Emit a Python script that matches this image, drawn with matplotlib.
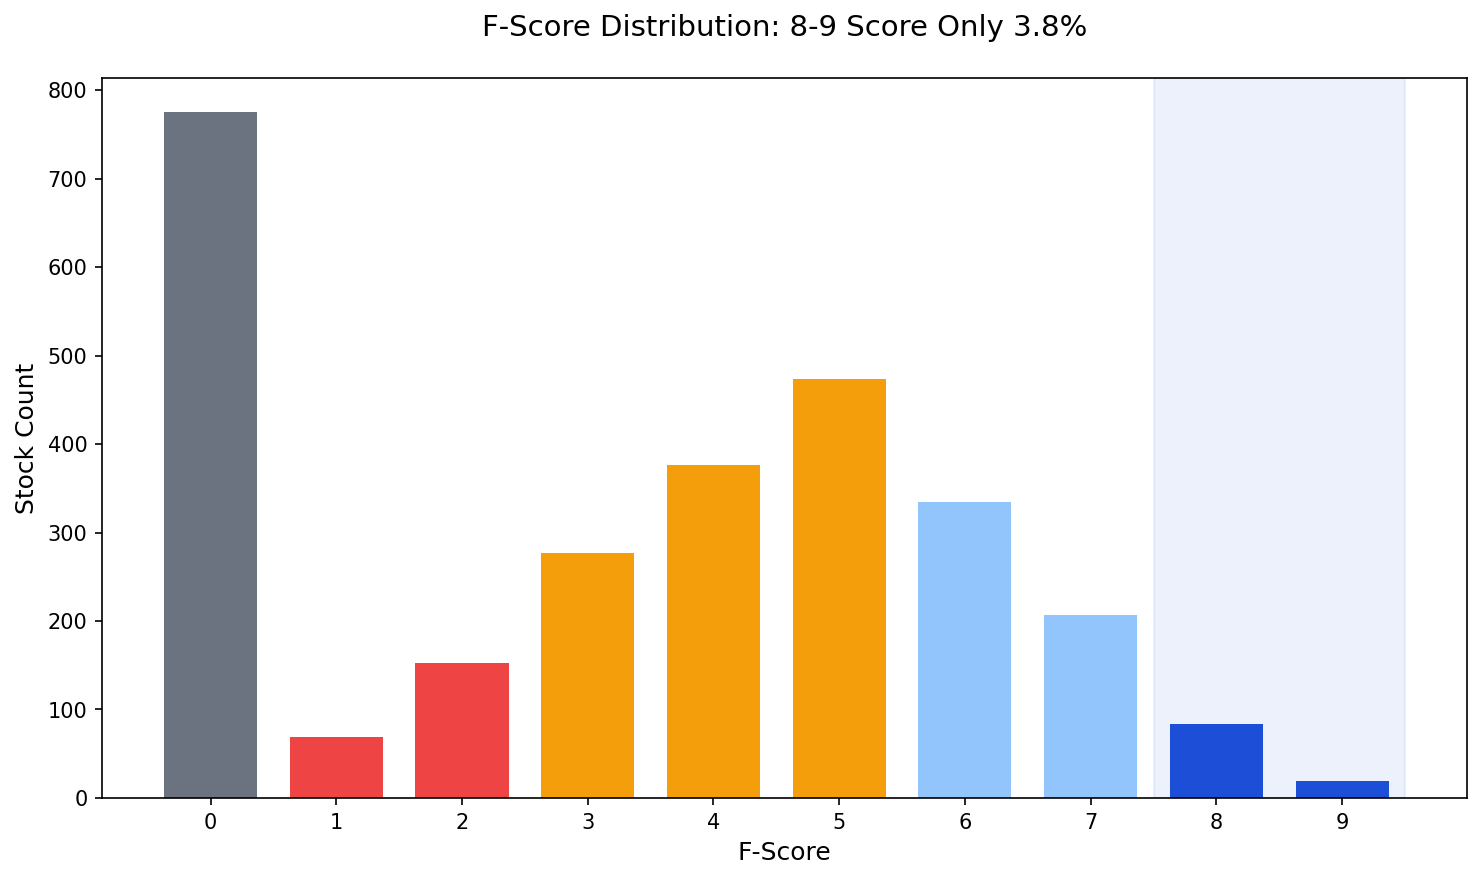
import matplotlib
matplotlib.use("Agg")
import matplotlib.pyplot as plt

# F-Score distribution data
scores = [0, 1, 2, 3, 4, 5, 6, 7, 8, 9]
counts = [775, 69, 153, 277, 376, 474, 335, 207, 84, 19]
colors = ['#6b7280', '#ef4444', '#ef4444', '#f59e0b', '#f59e0b', '#f59e0b',
          '#93c5fd', '#93c5fd', '#1d4ed8', '#1d4ed8']
title = 'F-Score Distribution: 8-9 Score Only 3.8%'


def plot_fscore(scores, counts, colors):
    fig, ax = plt.subplots(figsize=(9.88, 5.867), dpi=150)
    fig.subplots_adjust(left=0.0688, right=0.9899, top=0.9114, bottom=0.0932)

    # highlight the 8-9 band
    ax.axvspan(7.5, 9.5, color='#1d4ed8', alpha=0.08)
    ax.bar(scores, counts, width=0.74, color=colors)

    ax.set_xticks(scores)
    ax.set_xlabel('F-Score', fontsize=12)
    ax.set_ylabel('Stock Count', fontsize=12)
    ax.set_title(title, fontsize=14, pad=20)
    fig.savefig('out.png', dpi=150)


if __name__ == "__main__":
    plot_fscore(scores, counts, colors)
